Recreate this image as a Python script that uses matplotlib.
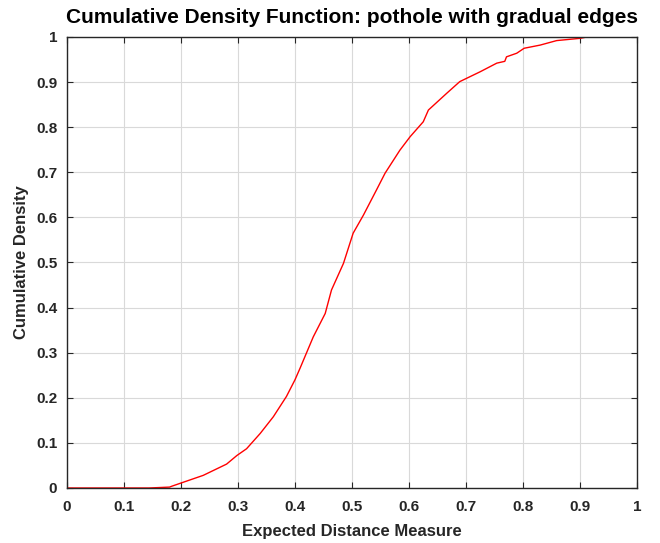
import matplotlib
matplotlib.use("Agg")
import matplotlib.pyplot as plt
import numpy as np

plt.rcParams['font.family'] = ['Liberation Sans', 'DejaVu Sans']

# Empirical CDF of the expected distance measure
distance = [0.0, 0.144, 0.18, 0.184, 0.20, 0.239, 0.28, 0.298, 0.315, 0.339,
            0.362, 0.385, 0.40, 0.409, 0.432, 0.453, 0.464, 0.485, 0.502,
            0.520, 0.543, 0.558, 0.584, 0.602, 0.625, 0.634, 0.666, 0.689,
            0.725, 0.754, 0.768, 0.771, 0.789, 0.802, 0.83, 0.859, 0.90,
            0.912, 1.0]
density = [0.0, 0.0, 0.002, 0.004, 0.011, 0.028, 0.053, 0.072, 0.087, 0.121,
           0.158, 0.203, 0.24, 0.266, 0.335, 0.387, 0.439, 0.498, 0.565,
           0.605, 0.661, 0.698, 0.749, 0.779, 0.812, 0.838, 0.875, 0.901,
           0.923, 0.942, 0.946, 0.956, 0.964, 0.975, 0.982, 0.992, 0.997,
           1.0, 1.0]

xticks = np.round(np.arange(0, 1.01, 0.1), 1)
yticks = np.round(np.arange(0, 1.01, 0.1), 1)
tick_labels = ['0', '0.1', '0.2', '0.3', '0.4', '0.5', '0.6', '0.7', '0.8', '0.9', '1']

fig = plt.figure(figsize=(6.6, 5.43), dpi=100)
ax = fig.add_axes([0.1015, 0.1013, 0.8637, 0.8306])

ax.plot(distance, density, color='red', linewidth=1.0)

ax.set_xlim(0, 1)
ax.set_ylim(0, 1)
ax.set_xticks(xticks)
ax.set_yticks(yticks)
ax.set_xticklabels(tick_labels)
ax.set_yticklabels(tick_labels)

dark = '#262626'
ax.grid(True, color='#d9d9d9', linewidth=0.8)
ax.set_axisbelow(True)
for s in ax.spines.values():
    s.set_color(dark)
    s.set_linewidth(1.0)
ax.tick_params(direction='in', length=4, width=0.8, color=dark,
               top=True, right=True, labelsize=11, labelcolor=dark)
ax.tick_params(axis='x', pad=9)
ax.tick_params(axis='y', pad=7)
for lab in ax.get_xticklabels() + ax.get_yticklabels():
    lab.set_fontweight('bold')

ax.set_xlabel('Expected Distance Measure', fontsize=12, fontweight='bold',
              color=dark, labelpad=7)
ax.set_ylabel('Cumulative Density', fontsize=12, fontweight='bold',
              color=dark, labelpad=5)
ax.set_title('Cumulative Density Function: pothole with gradual edges',
             fontsize=15, fontweight='bold', color='black', pad=10)

fig.savefig('out.png', dpi=100, facecolor='white')
